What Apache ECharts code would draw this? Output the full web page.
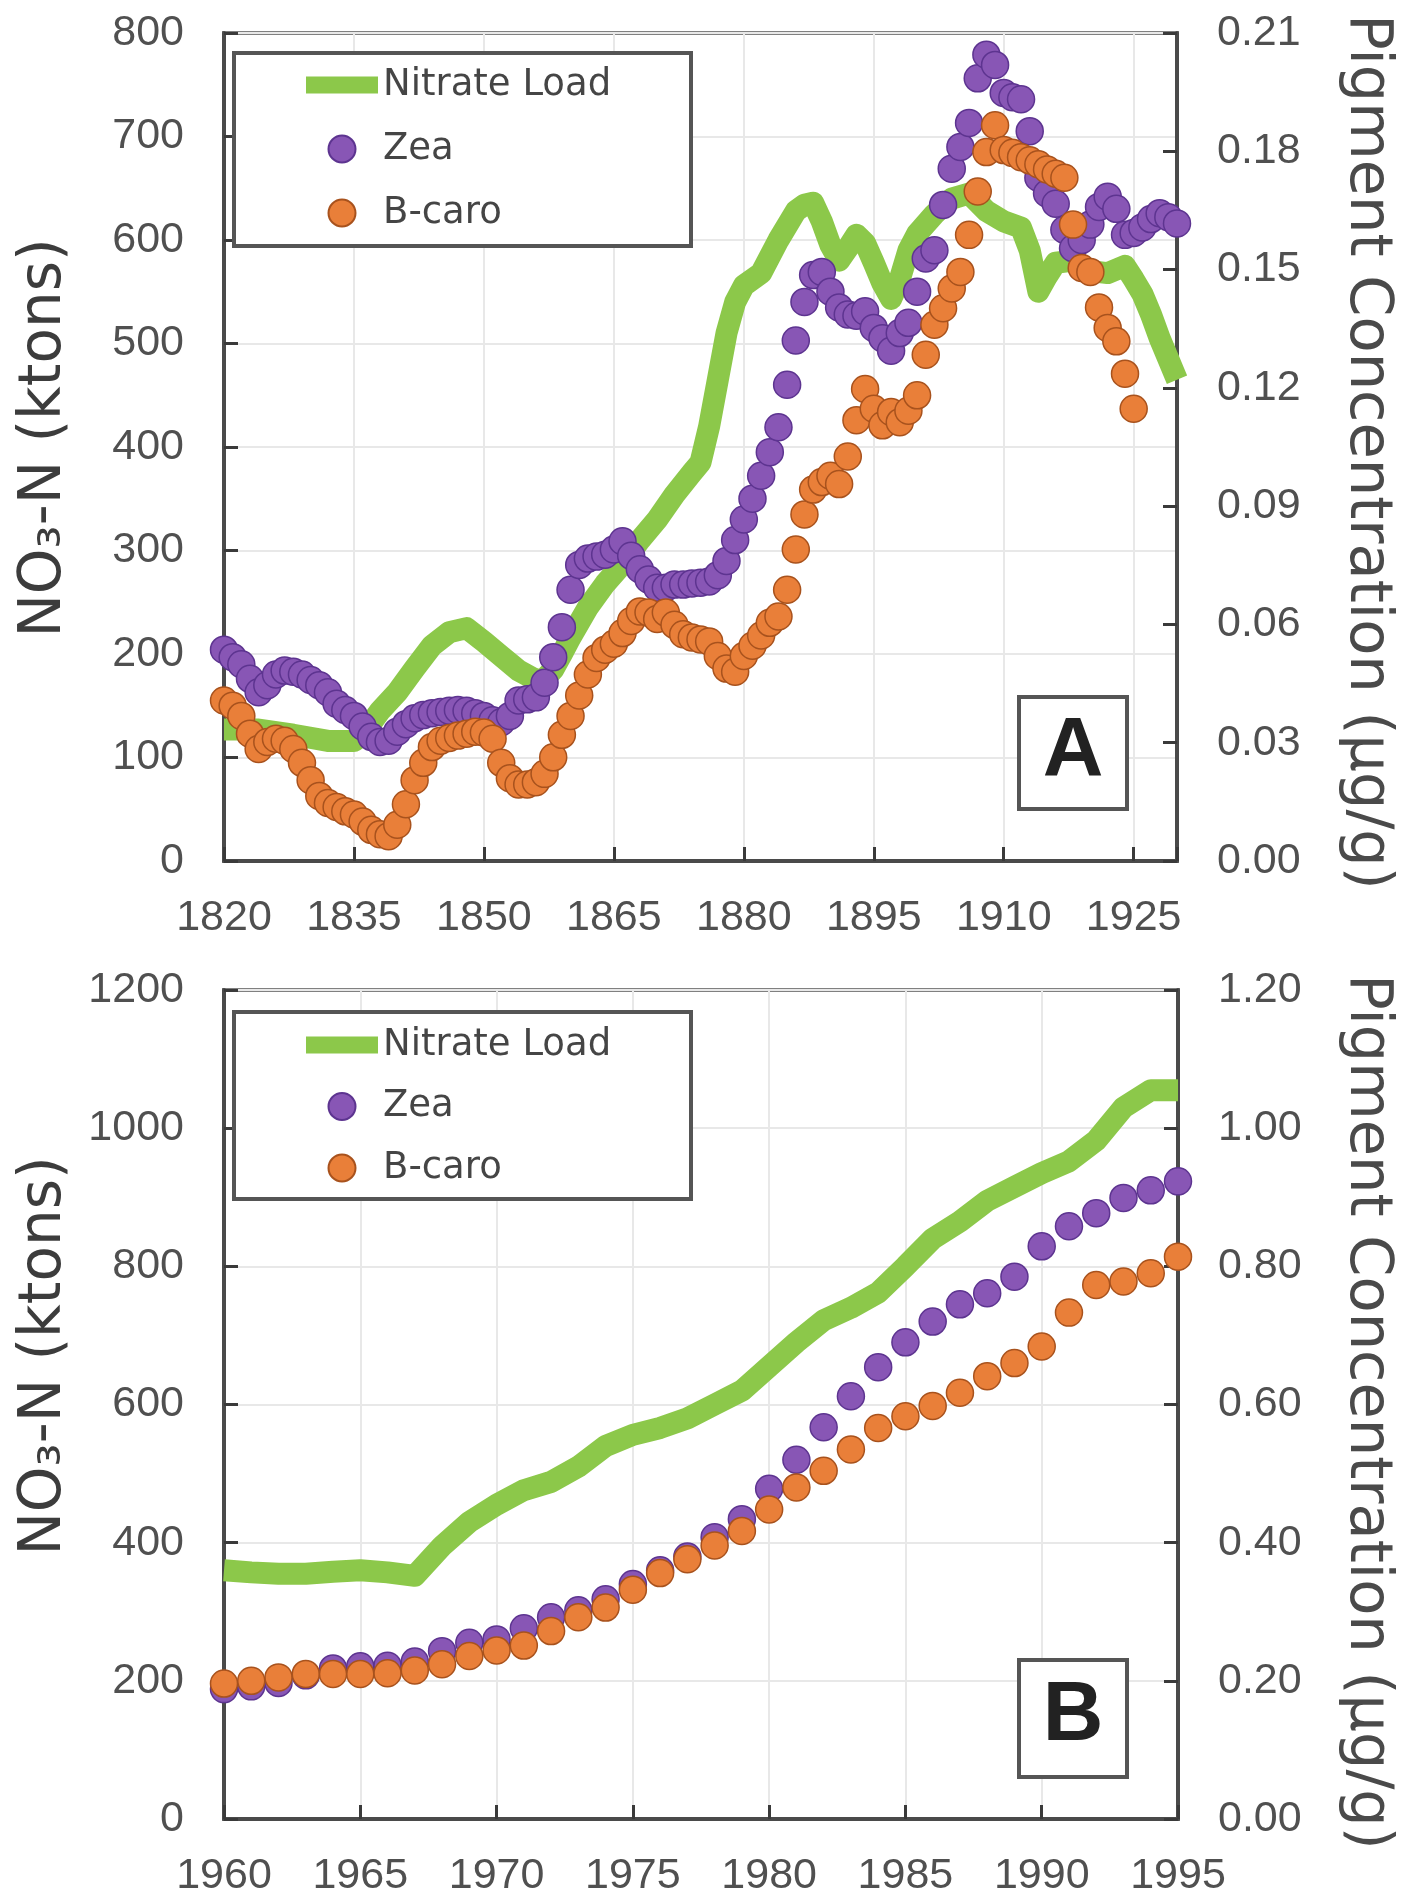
<!DOCTYPE html>
<html><head><meta charset="utf-8">
<script src="https://cdn.jsdelivr.net/npm/echarts@6.0.0/dist/echarts.min.js"></script>
<style>html,body{margin:0;padding:0;background:#fff}#c{width:1419px;height:1898px}</style>
</head><body><div id="c"></div>
<script>
// ---------- Panel A data (1820-1930) ----------
const nitrateYearsA = [1820,1824,1828,1832,1835,1836,1838,1840,1842,1844,1846,1848,1850,1852,1854,1856,1857,1858,1859,1860,1862,1864,1866,1868,1870,1872,1874,1875,1876,1877,1878,1879,1880,1882,1884,1886,1887,1888,1889,1890,1891,1892,1893,1894,1895,1896,1897,1898,1899,1900,1902,1904,1906,1908,1910,1912,1913,1914,1915,1916,1918,1920,1922,1924,1925,1926,1927,1928,1929,1930];
const nitrateA = [127,127,122,116,116,122,145,163,186,208,221,225,212,198,184,175,176,185,200,216,245,268,287,310,330,354,375,385,420,465,510,540,556,568,600,628,634,636,618,595,580,592,605,597,578,558,543,562,590,606,625,640,645,628,618,612,590,550,565,578,580,570,568,575,562,548,528,505,485,465];

const zeaYearsA = [1820,1821,1822,1823,1824,1825,1826,1827,1828,1829,1830,1831,1832,1833,1834,1835,1836,1837,1838,1839,1840,1841,1842,1843,1844,1845,1846,1847,1848,1849,1850,1851,1852,1853,1854,1855,1856,1857,1858,1859,1860,1861,1862,1863,1864,1865,1866,1867,1868,1869,1870,1871,1872,1873,1874,1875,1876,1877,1878,1879,1880,1881,1882,1883,1884,1885,1886,1887,1888,1889,1890,1891,1892,1893,1894,1895,1896,1897,1898,1899,1900,1901,1902,1903,1904,1905,1906,1907,1908,1909,1910,1911,1912,1913,1914,1915,1916,1917,1918,1919,1920,1921,1922,1923,1924,1925,1926,1927,1928,1929,1930];
const zeaA = [0.0536,0.0517,0.0499,0.0462,0.0428,0.0446,0.0473,0.0483,0.0480,0.0473,0.0459,0.0446,0.0428,0.0399,0.0383,0.0368,0.0341,0.0315,0.0302,0.0305,0.0328,0.0347,0.0362,0.0370,0.0375,0.0378,0.0381,0.0383,0.0381,0.0375,0.0368,0.0357,0.0352,0.0368,0.0407,0.0410,0.0415,0.0452,0.0517,0.0593,0.0688,0.0751,0.0767,0.0772,0.0777,0.0790,0.0811,0.0774,0.0740,0.0714,0.0693,0.0693,0.0701,0.0701,0.0704,0.0706,0.0709,0.0725,0.0761,0.0814,0.0866,0.0919,0.0977,0.1037,0.1100,0.1208,0.1320,0.1418,0.1486,0.1494,0.1444,0.1404,0.1386,0.1383,0.1394,0.1352,0.1326,0.1294,0.1339,0.1365,0.1444,0.1528,0.1549,0.1664,0.1756,0.1811,0.1872,0.1985,0.2045,0.2019,0.1948,0.1937,0.1932,0.1851,0.1733,0.1693,0.1667,0.1601,0.1554,0.1575,0.1614,0.1659,0.1685,0.1654,0.1588,0.1593,0.1607,0.1628,0.1643,0.1633,0.1617];

const bcaroYearsA = [1820,1821,1822,1823,1824,1825,1826,1827,1828,1829,1830,1831,1832,1833,1834,1835,1836,1837,1838,1839,1840,1841,1842,1843,1844,1845,1846,1847,1848,1849,1850,1851,1852,1853,1854,1855,1856,1857,1858,1859,1860,1861,1862,1863,1864,1865,1866,1867,1868,1869,1870,1871,1872,1873,1874,1875,1876,1877,1878,1879,1880,1881,1882,1883,1884,1885,1886,1887,1888,1889,1890,1891,1892,1893,1894,1895,1896,1897,1898,1899,1900,1901,1902,1903,1904,1905,1906,1907,1908,1909,1910,1911,1912,1913,1914,1915,1916,1917,1918,1919,1920,1921,1922,1923,1924,1925];
const bcaroA = [0.0407,0.0394,0.0368,0.0323,0.0284,0.0302,0.0310,0.0305,0.0284,0.0249,0.0205,0.0165,0.0147,0.0137,0.0126,0.0118,0.0100,0.0079,0.0068,0.0063,0.0092,0.0144,0.0205,0.0249,0.0289,0.0305,0.0312,0.0318,0.0323,0.0328,0.0326,0.0310,0.0249,0.0210,0.0194,0.0194,0.0200,0.0221,0.0263,0.0320,0.0368,0.0420,0.0473,0.0515,0.0536,0.0551,0.0578,0.0609,0.0633,0.0630,0.0614,0.0630,0.0599,0.0575,0.0567,0.0562,0.0557,0.0520,0.0488,0.0480,0.0520,0.0546,0.0572,0.0604,0.0620,0.0688,0.0790,0.0879,0.0942,0.0961,0.0977,0.0956,0.1026,0.1118,0.1197,0.1147,0.1105,0.1139,0.1113,0.1142,0.1181,0.1284,0.1360,0.1402,0.1452,0.1494,0.1588,0.1698,0.1798,0.1866,0.1803,0.1796,0.1785,0.1777,0.1767,0.1754,0.1743,0.1733,0.1614,0.1504,0.1494,0.1404,0.1352,0.1318,0.1236,0.1147];

// ---------- Panel B data (1960-1995) ----------
const yearsB = [1960,1961,1962,1963,1964,1965,1966,1967,1968,1969,1970,1971,1972,1973,1974,1975,1976,1977,1978,1979,1980,1981,1982,1983,1984,1985,1986,1987,1988,1989,1990,1991,1992,1993,1994,1995];
const nitrateB = [360,357,355,355,358,360,357,352,395,430,455,476,488,510,540,556,566,580,600,620,655,690,722,740,762,800,840,865,895,915,935,952,982,1030,1055,1055];
const zeaB = [0.188,0.192,0.197,0.208,0.218,0.221,0.222,0.228,0.243,0.255,0.260,0.276,0.292,0.302,0.318,0.340,0.360,0.380,0.408,0.434,0.478,0.520,0.567,0.612,0.654,0.690,0.720,0.745,0.761,0.785,0.829,0.858,0.877,0.899,0.910,0.923];
const bcaroB = [0.196,0.200,0.205,0.210,0.210,0.210,0.211,0.215,0.224,0.236,0.244,0.251,0.272,0.292,0.306,0.332,0.356,0.376,0.396,0.417,0.448,0.480,0.504,0.535,0.566,0.583,0.598,0.617,0.641,0.660,0.684,0.733,0.773,0.778,0.790,0.814];

// ---------- Axis settings ----------
const xTicksA = {start: 1820, end: 1930, step: 15};
const leftA = {min: 0, max: 800, step: 100};
const rightA = {min: 0, max: 0.21, step: 0.03};
const xTicksB = {start: 1960, end: 1995, step: 5};
const leftB = {min: 0, max: 1200, step: 200};
const rightB = {min: 0, max: 1.2, step: 0.2};
const seriesNames = ['Nitrate Load', 'Zea', 'B-caro'];

// ---------- Styles ----------
const GREEN = '#8cc84a', PURPLE = '#8856b5', PURPLE_EDGE = '#5d3490', ORANGE = '#e97f39', ORANGE_EDGE = '#a8521d';
const tickFont = {fontFamily: '"Liberation Sans", Arial, sans-serif', fontSize: 43, color: '#505050'};
const axisLineStyle = {color: '#4a4a4a', width: 4};
const tickStyle = {show: true, inside: true, length: 14, lineStyle: {color: '#3a3a3a', width: 3}};
const splitStyle = {show: true, lineStyle: {color: '#e8e8e8', width: 2}};
const titleFont = '"DejaVu Sans", sans-serif';

const chart = echarts.init(document.getElementById('c'), null, {renderer: 'canvas'});

function legendCfg(top, gap) {
  return {
    data: [
      {name: seriesNames[0], icon: 'path://M0 0H72V17H0Z'},
      {name: seriesNames[1], icon: 'circle'},
      {name: seriesNames[2], icon: 'circle'}
    ],
    orient: 'vertical', left: 306, top: top, padding: 0,
    itemWidth: 72, itemHeight: 27, itemGap: gap, selectedMode: false,
    textStyle: {fontFamily: titleFont, fontSize: 37, color: '#454545', lineHeight: 40}};
}
function scatterStyle(c, e) { return {color: c, borderColor: e, borderWidth: 1.5, opacity: 1}; }
const plain = v => String(v);

const option = {
  animation: false,
  backgroundColor: '#ffffff',
  grid: [
    {left: 224, top: 33, width: 953, height: 828, show: true, borderColor: '#808080', borderWidth: 4},
    {left: 224, top: 990, width: 954, height: 830, show: true, borderColor: '#808080', borderWidth: 4}
  ],
  xAxis: [
    {gridIndex: 0, type: 'value', min: 0, max: xTicksA.end - xTicksA.start, interval: xTicksA.step,
      axisLine: {show: true, onZero: false, lineStyle: axisLineStyle}, axisTick: tickStyle,
      axisLabel: Object.assign({margin: 36, formatter: v => (v + xTicksA.start >= xTicksA.end ? '' : String(v + xTicksA.start))}, tickFont),
      splitLine: splitStyle},
    {gridIndex: 1, type: 'value', min: xTicksB.start, max: xTicksB.end, interval: xTicksB.step,
      axisLine: {show: true, onZero: false, lineStyle: axisLineStyle}, axisTick: tickStyle,
      axisLabel: Object.assign({margin: 36, formatter: plain}, tickFont),
      splitLine: splitStyle}
  ],
  yAxis: [
    {gridIndex: 0, type: 'value', position: 'left', min: leftA.min, max: leftA.max, interval: leftA.step,
      axisLine: {show: true, onZero: false, lineStyle: axisLineStyle}, axisTick: tickStyle,
      axisLabel: Object.assign({margin: 40, formatter: plain}, tickFont), splitLine: splitStyle},
    {gridIndex: 0, type: 'value', position: 'right', min: rightA.min, max: rightA.max, interval: rightA.step,
      axisLine: {show: true, onZero: false, lineStyle: axisLineStyle}, axisTick: tickStyle,
      axisLabel: Object.assign({margin: 40, formatter: v => v.toFixed(2)}, tickFont), splitLine: {show: false}},
    {gridIndex: 1, type: 'value', position: 'left', min: leftB.min, max: leftB.max, interval: leftB.step,
      axisLine: {show: true, onZero: false, lineStyle: axisLineStyle}, axisTick: tickStyle,
      axisLabel: Object.assign({margin: 40, formatter: plain}, tickFont), splitLine: splitStyle},
    {gridIndex: 1, type: 'value', position: 'right', min: rightB.min, max: rightB.max, interval: rightB.step,
      axisLine: {show: true, onZero: false, lineStyle: axisLineStyle}, axisTick: tickStyle,
      axisLabel: Object.assign({margin: 40, formatter: v => v.toFixed(2)}, tickFont), splitLine: {show: false}}
  ],
  legend: [legendCfg(65, 24), legendCfg(1025, 21.5)],
  series: [
    {name: 'Nitrate Load', type: 'line', xAxisIndex: 0, yAxisIndex: 0, symbol: 'none', z: 2,
      data: nitrateYearsA.map((y, i) => [y - xTicksA.start, nitrateA[i]]),
      lineStyle: {color: GREEN, width: 22, join: 'round'}, itemStyle: {color: GREEN}},
    {name: 'Zea', type: 'scatter', xAxisIndex: 0, yAxisIndex: 1, symbol: 'circle', symbolSize: 27, z: 3,
      data: zeaYearsA.map((y, i) => [y - xTicksA.start, zeaA[i]]), itemStyle: scatterStyle(PURPLE, PURPLE_EDGE)},
    {name: 'B-caro', type: 'scatter', xAxisIndex: 0, yAxisIndex: 1, symbol: 'circle', symbolSize: 27, z: 4,
      data: bcaroYearsA.map((y, i) => [y - xTicksA.start, bcaroA[i]]), itemStyle: scatterStyle(ORANGE, ORANGE_EDGE)},
    {name: 'Nitrate Load', type: 'line', xAxisIndex: 1, yAxisIndex: 2, symbol: 'none', z: 2,
      data: yearsB.map((y, i) => [y, nitrateB[i]]),
      lineStyle: {color: GREEN, width: 22, join: 'round'}, itemStyle: {color: GREEN}},
    {name: 'Zea', type: 'scatter', xAxisIndex: 1, yAxisIndex: 3, symbol: 'circle', symbolSize: 27, z: 3,
      data: yearsB.map((y, i) => [y, zeaB[i]]), itemStyle: scatterStyle(PURPLE, PURPLE_EDGE)},
    {name: 'B-caro', type: 'scatter', xAxisIndex: 1, yAxisIndex: 3, symbol: 'circle', symbolSize: 27, z: 4,
      data: yearsB.map((y, i) => [y, bcaroB[i]]), itemStyle: scatterStyle(ORANGE, ORANGE_EDGE)}
  ],
  graphic: [
    // legend frames
    {type: 'rect', z: 3, shape: {x: 234, y: 53, width: 457, height: 193}, style: {fill: '#ffffff', stroke: '#555555', lineWidth: 4}},
    {type: 'rect', z: 3, shape: {x: 234, y: 1012, width: 457, height: 187}, style: {fill: '#ffffff', stroke: '#555555', lineWidth: 4}},
    // panel labels
    {type: 'rect', z: 5, shape: {x: 1019, y: 697, width: 108, height: 112}, style: {fill: '#ffffff', stroke: '#555555', lineWidth: 4}},
    {type: 'text', z: 6, x: 1073, y: 753, style: {text: 'A', fill: '#222222', font: 'bold 84px "Liberation Sans", Arial, sans-serif', align: 'center', verticalAlign: 'middle', textAlign: 'center', textVerticalAlign: 'middle'}},
    {type: 'rect', z: 5, shape: {x: 1019, y: 1660, width: 108, height: 117}, style: {fill: '#ffffff', stroke: '#555555', lineWidth: 4}},
    {type: 'text', z: 6, x: 1073, y: 1717, style: {text: 'B', fill: '#222222', font: 'bold 84px "Liberation Sans", Arial, sans-serif', align: 'center', verticalAlign: 'middle', textAlign: 'center', textVerticalAlign: 'middle'}},
    // axis titles
    {type: 'text', z: 6, x: 45, y: 438, rotation: Math.PI / 2, style: {text: 'NO\u2083-N (ktons)', fill: '#3c3c3c', font: '58px ' + titleFont, align: 'center', verticalAlign: 'middle', textAlign: 'center', textVerticalAlign: 'middle'}},
    {type: 'text', z: 6, x: 45, y: 1356, rotation: Math.PI / 2, style: {text: 'NO\u2083-N (ktons)', fill: '#3c3c3c', font: '58px ' + titleFont, align: 'center', verticalAlign: 'middle', textAlign: 'center', textVerticalAlign: 'middle'}},
    {type: 'text', z: 6, x: 1366, y: 452, rotation: -Math.PI / 2, style: {text: 'Pigment Concentration (\u00b5g/g)', fill: '#4a4a4a', font: '59px ' + titleFont, align: 'center', verticalAlign: 'middle', textAlign: 'center', textVerticalAlign: 'middle'}},
    {type: 'text', z: 6, x: 1366, y: 1412, rotation: -Math.PI / 2, style: {text: 'Pigment Concentration (\u00b5g/g)', fill: '#4a4a4a', font: '59px ' + titleFont, align: 'center', verticalAlign: 'middle', textAlign: 'center', textVerticalAlign: 'middle'}}
  ]
};
chart.setOption(option);
</script></body></html>
